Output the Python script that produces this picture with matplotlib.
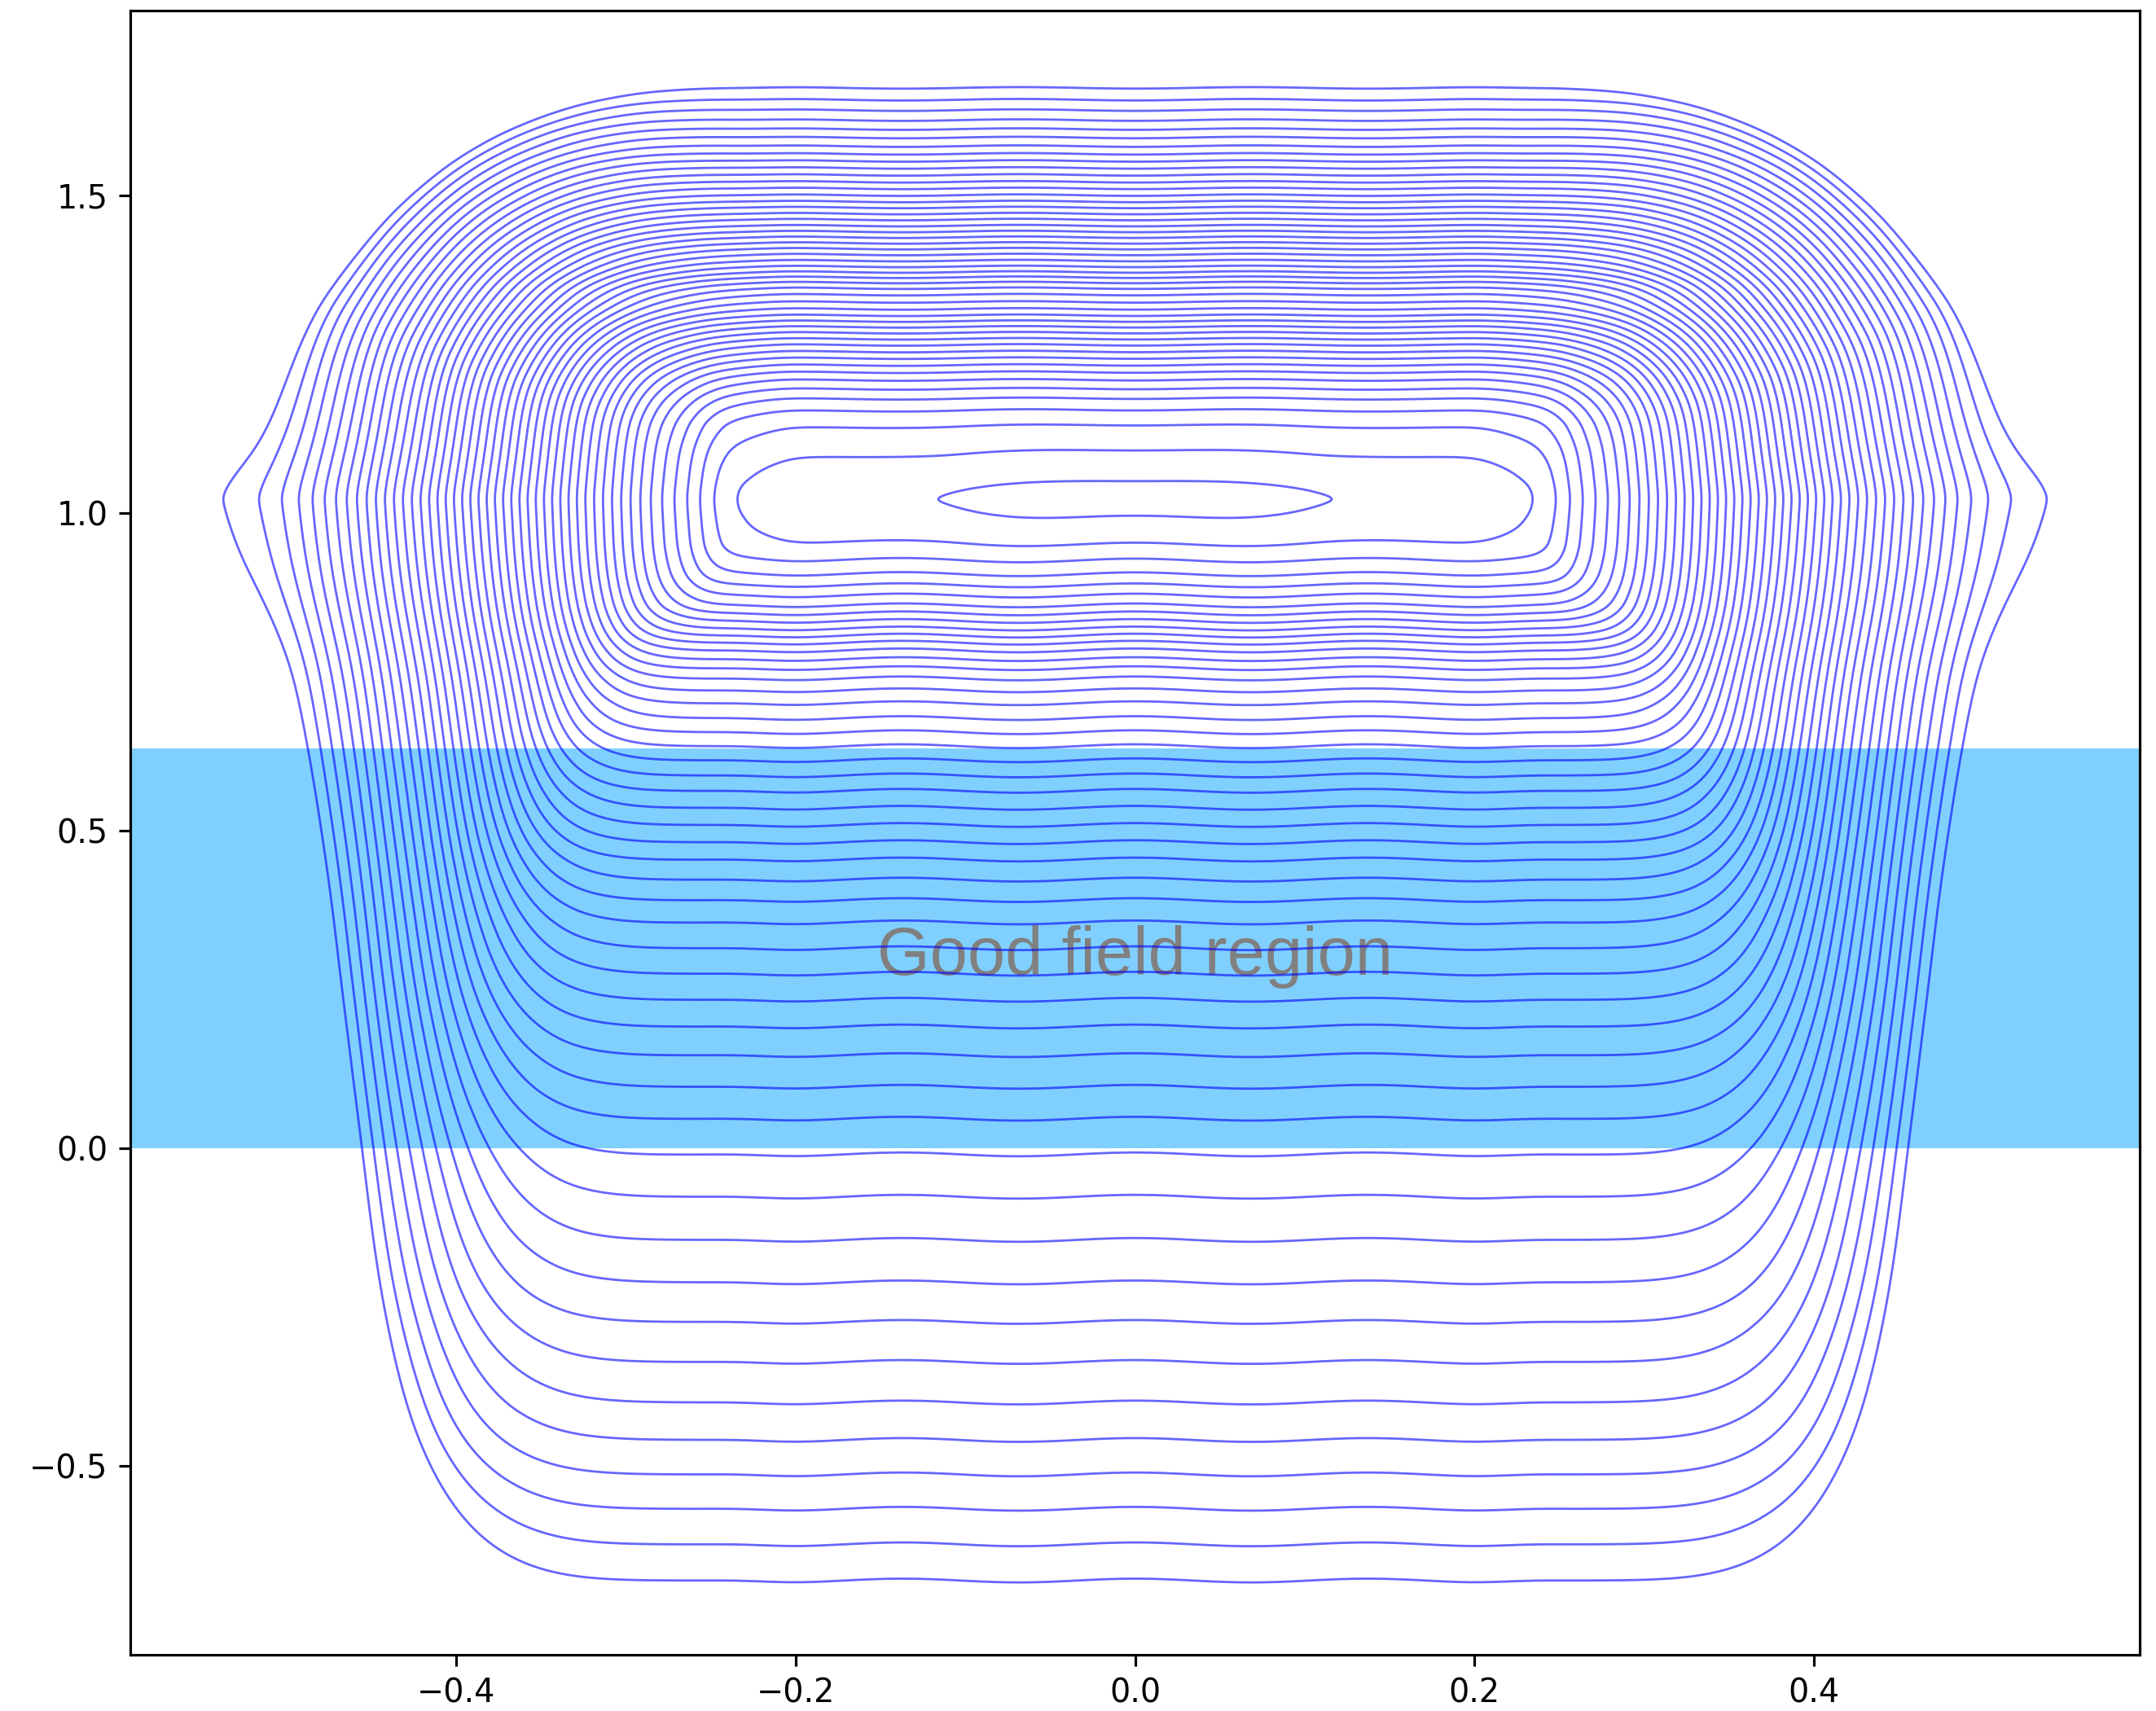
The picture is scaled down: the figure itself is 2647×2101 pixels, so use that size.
import numpy as np
import matplotlib.pyplot as plt

# flux lines, innermost first: where each closed line crosses x=0 above and
# below the centre, and its half width at the height of the centre
y_mid = 1.022
top_y = [1.050, 1.100, 1.140, 1.163, 1.181, 1.196, 1.210, 1.222, 1.233, 1.244,
         1.254, 1.265, 1.274, 1.284, 1.293, 1.302, 1.311, 1.321, 1.332, 1.344,
         1.354, 1.363, 1.371, 1.379, 1.388, 1.397, 1.407, 1.416, 1.425, 1.434,
         1.443, 1.452, 1.462, 1.471, 1.481, 1.490, 1.500, 1.511, 1.521, 1.532,
         1.543, 1.554, 1.565, 1.577, 1.591, 1.604, 1.618, 1.634, 1.650, 1.669]
bottom_y = [0.994, 0.949, 0.925, 0.903, 0.886, 0.870, 0.854, 0.842, 0.830, 0.818,
            0.807, 0.796, 0.784, 0.770, 0.756, 0.740, 0.721, 0.701, 0.677, 0.655,
            0.633, 0.611, 0.587, 0.563, 0.536, 0.509, 0.482, 0.455, 0.423, 0.391,
            0.356, 0.315, 0.275, 0.234, 0.192, 0.147, 0.097, 0.047, -0.009, -0.076,
            -0.144, -0.211, -0.273, -0.336, -0.400, -0.459, -0.513, -0.567, -0.623, -0.680]
side_x = [0.112, 0.240, 0.2505, 0.2560, 0.2633, 0.2719, 0.2794, 0.2858, 0.2922, 0.2976,
          0.3029, 0.3082, 0.3136, 0.3189, 0.3243, 0.3292, 0.3339, 0.3386, 0.3435, 0.3484,
          0.3532, 0.3579, 0.3628, 0.3675, 0.3725, 0.3772, 0.3821, 0.3870, 0.3917, 0.3965,
          0.4014, 0.4063, 0.4110, 0.4158, 0.4207, 0.4260, 0.4314, 0.4368, 0.4421, 0.4475,
          0.4521, 0.4581, 0.4642, 0.4706, 0.4774, 0.4839, 0.4913, 0.5020, 0.5138, 0.5374]
# the innermost line is round-ended, the flat part of the next ones ends about here
tip_x = 0.085
flat_x = 0.200
# small waviness of the flat parts (pitch of the conductors)
ripple_pitch = 0.137
ripple_amp = 0.003

band = (0.0, 0.63)
label = "Good field region"

n = len(top_y)
lines = np.arange(1, n + 1, dtype=float)
dd = np.arange(0, 2.0, 0.0005)


def line_map(pos, idx, sigma):
    # distance from the centre -> (fractional) line number, smoothed
    pos = np.asarray(pos, float)
    idx = np.asarray(idx, float)
    v = np.interp(dd, pos, idx)
    slope = (idx[-1] - idx[-2]) / (pos[-1] - pos[-2])
    far = dd > pos[-1]
    v[far] = idx[-1] + (dd[far] - pos[-1]) * slope
    if sigma > 0:
        full = np.r_[-v[:0:-1], v]
        m = int(4 * sigma / 0.0005)
        ker = np.exp(-0.5 * (np.arange(-m, m + 1) * 0.0005 / sigma) ** 2)
        ker /= ker.sum()
        pad = np.r_[np.full(m, full[0]), full, full[-1] + (full[-1] - full[-2]) * np.arange(1, m + 1)]
        v = np.convolve(pad, ker, mode="valid")[len(dd) - 1:]
    return np.clip(v, 0, None)


def smoothstep(t):
    t = np.clip(t, 0, 1)
    return t * t * (3 - 2 * t)


x = np.linspace(-0.62, 0.62, 745)
y = np.linspace(-0.85, 1.85, 1621)
X, Y = np.meshgrid(x, y)
ax_ = np.abs(X)
up = Y >= y_mid

# waviness: lines pulled toward the centre at x = 0, +-pitch, pushed out between
wave = ripple_amp * np.cos(2 * np.pi * ax_ / ripple_pitch) * (1 - smoothstep((ax_ - 0.19) / 0.07))
wave = np.where(up, 0.4 * wave, wave)
dy = np.clip(np.abs(Y - y_mid) + wave * smoothstep(np.abs(Y - y_mid) / 0.03), 0, None)

h_map = line_map(np.r_[0.0, tip_x, side_x[0], flat_x, side_x[1:]],
                 np.r_[0.0, 0.75, 1.0, 1.15, lines[1:]], 0.008)
H = np.interp(ax_, dd, h_map)

top_pos = np.r_[0.0, np.array(top_y) - y_mid]
bot_pos = np.r_[0.0, y_mid - np.array(bottom_y)]
idx = np.r_[0.0, lines]
vt_axis = np.interp(dy, dd, line_map(top_pos, idx, 0.003))
vt_side = dy * n / top_pos[-1]
vb_axis = np.interp(dy, dd, line_map(bot_pos, idx, 0.003))
vb_side = np.interp(dy, dd, line_map(bot_pos, idx, 0.04))

w = smoothstep((ax_ - 0.2) / 0.25)
V = np.where(up, (1 - w) * vt_axis + w * vt_side, (1 - w) * vb_axis + w * vb_side)

lo = np.full(X.shape, 1e-3)
hi = np.full(X.shape, 120.0)
for _ in range(40):
    s = 0.5 * (lo + hi)
    rv = np.clip(V / s, 0, 1)
    b = smoothstep(s / 30)
    knee = 0.1 * np.log1p(np.exp((rv - 0.65) / 0.1))
    p_top = (2.0 + 0.3 * smoothstep(rv / 0.5)) * (1 - b) + (1.6 + 0.6 * smoothstep(rv / 0.5)) * b
    p_bot = (2.0 + 1.0 * rv) * (1 - b) + (1.4 + 1.8 * rv + 2.5 * knee) * b
    p = np.where(up, p_top, p_bot)
    f = (H / s) ** p + (V / s) ** p
    big = f > 1
    lo = np.where(big, s, lo)
    hi = np.where(big, hi, s)
psi = 0.5 * (lo + hi)

k = np.exp(-0.5 * (np.arange(-8, 9) / 2.5) ** 2)
k /= k.sum()
psi = np.apply_along_axis(lambda r: np.convolve(r, k, mode="same"), 1, psi)
psi = np.apply_along_axis(lambda c: np.convolve(c, k, mode="same"), 0, psi)

dpi = 285
fig = plt.figure(figsize=(2647 / dpi, 2101 / dpi), dpi=dpi)
ax = fig.add_axes([0.0605, 0.0328, 0.9319, 0.9608])

ax.axhspan(band[0], band[1], color="#80d0ff", zorder=0.5, lw=0)
ax.text(0, 0.273, label, ha="center", va="baseline", fontsize=21,
        color="gray", family="Liberation Sans", zorder=1)
ax.contour(X, Y, psi, levels=lines, colors="blue",
           linewidths=0.7, alpha=0.6, zorder=2)

ax.set_xlim(-0.592, 0.592)
ax.set_ylim(-0.797, 1.79)

fig.savefig("out.png", dpi=dpi)
